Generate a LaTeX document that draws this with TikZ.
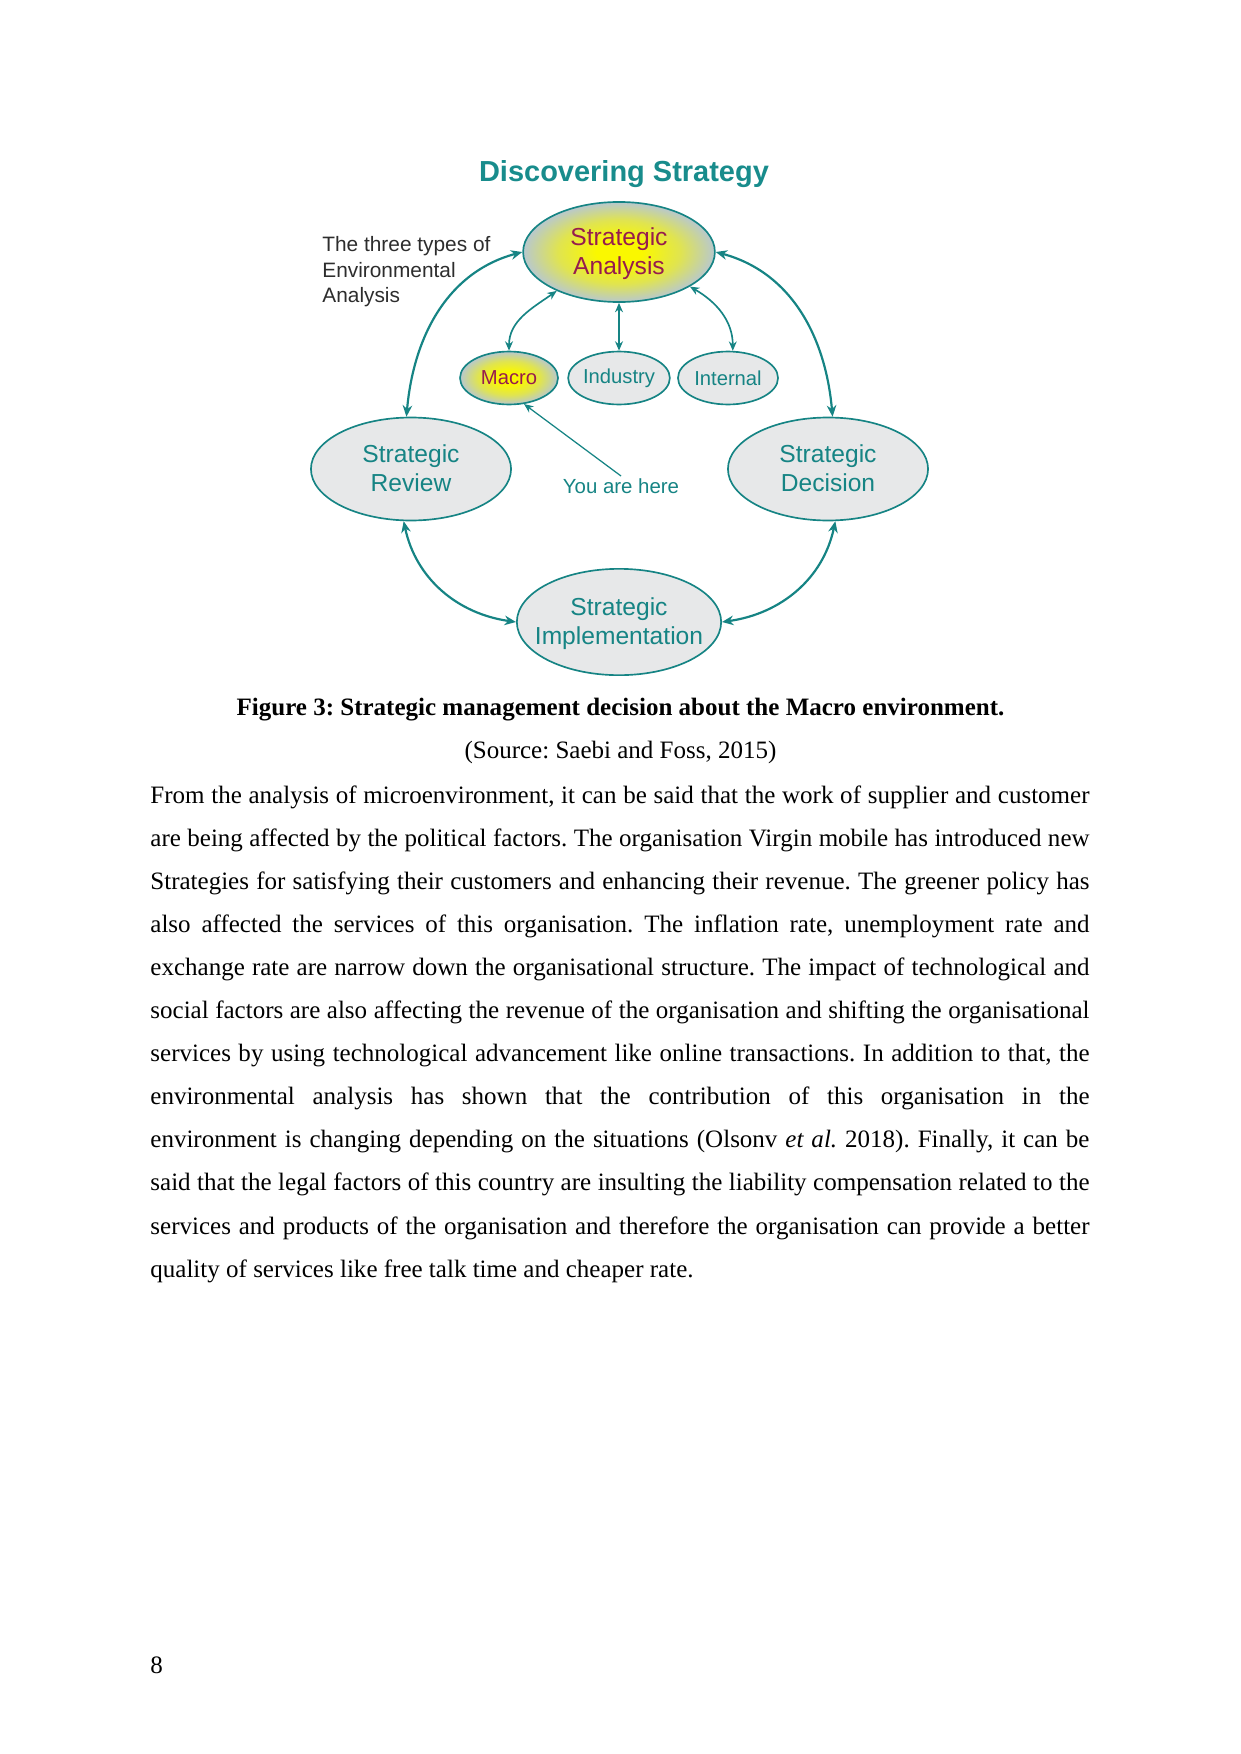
\documentclass[tikz,border=0pt]{standalone}
\usepackage{fontspec}
\setmainfont{Liberation Serif}
\newfontfamily\diagfont{Liberation Sans}
\usepackage{tikz}
\usetikzlibrary{arrows.meta, shapes.geometric, positioning}
\frenchspacing

\definecolor{stratteal}   {RGB}{ 22, 132, 132}
\definecolor{strattitle}  {RGB}{ 24, 140, 140}
\definecolor{stratmaroon} {RGB}{150,  28,  78}
\definecolor{stratgrey}   {RGB}{231, 232, 233}
\definecolor{stratyellow} {RGB}{250, 248,   0}
\definecolor{stratmid}    {RGB}{224, 228,  80}
\definecolor{stratedge}   {RGB}{184, 200, 206}
\definecolor{stratnote}   {RGB}{ 45,  45,  45}

\pgfdeclareradialshading{stratglow}{\pgfpoint{0bp}{0bp}}{%
  color(0bp)=(stratyellow); color(6bp)=(stratyellow); color(16bp)=(stratmid);
  color(25bp)=(stratedge); color(50bp)=(stratedge)}

\newcommand{\stagetext}[1]{\makebox[0pt]{\raisebox{-1pt}[\height][\depth]{\begin{tabular}{@{}c@{}}#1\end{tabular}}}}

\tikzset{
  stage/.style={ellipse, draw=stratteal, line width=0.8pt, fill=stratgrey, inner sep=0pt,
    text=stratteal, font=\diagfont\fontsize{11.8}{14}\selectfont},
  envir/.style={stage, font=\diagfont\fontsize{9.7}{11}\selectfont, minimum height=25.4pt},
  focus/.style={shade, shading=stratglow, text=stratmaroon},
  cyclearrow/.style={stratteal, line width=1.05pt,
    {Stealth[length=5.5pt,width=4.6pt]}-{Stealth[length=5.5pt,width=4.6pt]}},
  subarrow/.style={stratteal, line width=0.8pt,
    {Stealth[length=4.5pt,width=3.8pt]}-{Stealth[length=4.5pt,width=3.8pt]}},
  bodyline/.style={anchor=base west, inner sep=0pt, font=\fontsize{12}{14}\selectfont}
}

\begin{document}
\begin{tikzpicture}[x=0.4797pt, y=0.4797pt]
  \useasboundingbox (0,0) rectangle (1241,-1754);

  % diagram
  \node[strattitle, font=\diagfont\bfseries\fontsize{13.9}{16}\selectfont, inner sep=0pt] (title) at (624,-174) {Discovering Strategy};

  \node[stage, focus, minimum width=92pt, minimum height=48pt] (ana) at (619,-252) {\stagetext{Strategic\\Analysis}};
  \node[envir, focus, minimum width=47pt] (macro) at (509,-378) {Macro};
  \node[envir, minimum width=46.5pt] (industry) at (619,-378) {Industry};
  \node[envir, minimum width=48pt] (internal) at (728,-378) {Internal};
  \node[stage, minimum width=96pt, minimum height=49.4pt] (rev) at (411,-469) {\stagetext{Strategic\\Review}};
  \node[stage, minimum width=96pt, minimum height=49.4pt] (dec) at (828,-469) {\stagetext{Strategic\\Decision}};
  \node[stage, minimum width=98pt, minimum height=51pt] (imp) at (619,-622) {\stagetext{Strategic\\Implementation}};

  \node[stratteal, font=\diagfont\fontsize{9.8}{11}\selectfont, inner sep=1pt] (you) at (621,-486) {You are here};
  \node[stratnote, font=\diagfont\fontsize{10}{12.3}\selectfont, align=left, anchor=north west, inner sep=0pt] (note) at (322,-236) {The three types of\\Environmental\\Analysis};

  \draw[cyclearrow] (rev.95) to[out=85, in=195] (ana.west);
  \draw[cyclearrow] (ana.east) to[out=-15, in=95] (dec.85);
  \draw[cyclearrow] (rev.262) to[out=-78, in=172] (imp.west);
  \draw[cyclearrow] (imp.east) to[out=8, in=-102] (dec.278);

  \draw[subarrow] (ana.212) to[out=215, in=90] (macro.north);
  \draw[subarrow] (ana.south) -- (industry.north);
  \draw[subarrow] (ana.334) to[out=-30, in=90] (internal.80);
  \draw[stratteal, line width=0.6pt, -{Stealth[length=4.5pt,width=3.8pt]}] (you.north) -- (macro.300);

  % caption
  \node[font=\bfseries\fontsize{12}{14}\selectfont, anchor=base] (caption) at (620.5,-715) {Figure 3: Strategic management decision about the Macro environment.};
  \node[font=\fontsize{12}{14}\selectfont, anchor=base] (source) at (620.5,-758) {(Source: Saebi and Foss, 2015)};

  % body text
  \foreach \bline [count=\i] in {
    {From the analysis of microenvironment, it can be said that the work of supplier and customer},
    {are being affected by the political factors. The organisation Virgin mobile has introduced new},
    {Strategies for satisfying their customers and enhancing their revenue. The greener policy has},
    {also affected the services of this organisation. The inflation rate, unemployment rate and},
    {exchange rate are narrow down the organisational structure. The impact of technological and},
    {social factors are also affecting the revenue of the organisation and shifting the organisational},
    {services by using technological advancement like online transactions. In addition to that, the},
    {environmental analysis has shown that the contribution of this organisation in the},
    {environment is changing depending on the situations (Olsonv \textit{et al.} 2018). Finally, it can be},
    {said that the legal factors of this country are insulting the liability compensation related to the},
    {services and products of the organisation and therefore the organisation can provide a better}}
    \node[bodyline] (line\i) at (150,{-803-(\i-1)*43.1}) {\makebox[450.5pt][s]{\bline}};
  \node[bodyline] (line12) at (150,-1277.1) {quality of services like free talk time and cheaper rate.};

  \node[bodyline] (pagenum) at (150,-1673) {8};
\end{tikzpicture}
\end{document}
